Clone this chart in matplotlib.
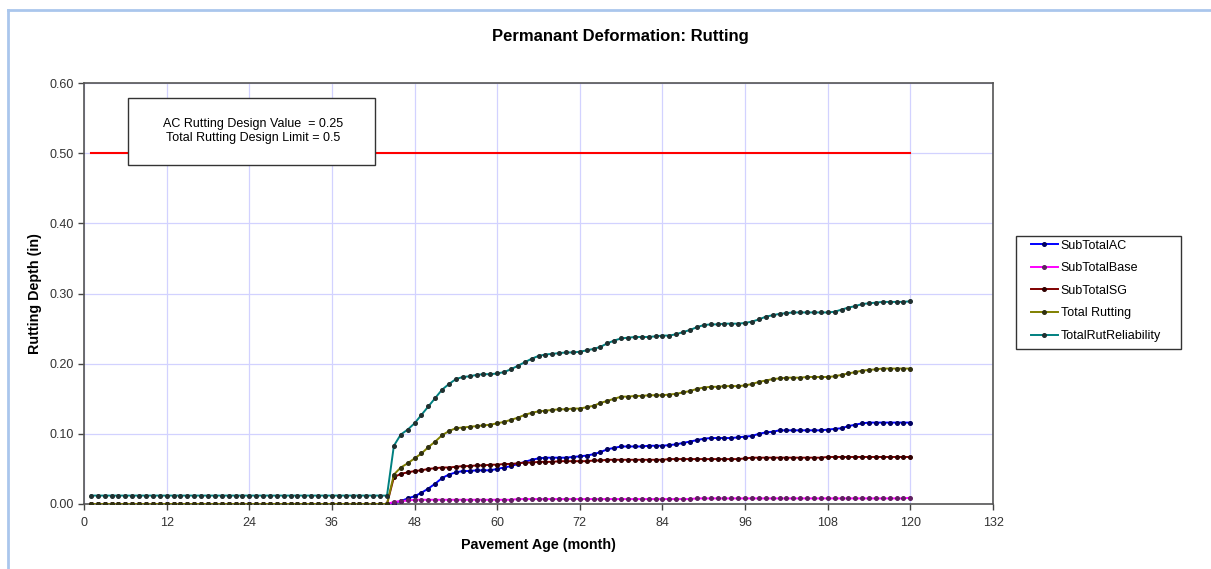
import numpy as np
import matplotlib
matplotlib.use("Agg")
import matplotlib.pyplot as plt
from matplotlib.lines import Line2D
from matplotlib.patches import Rectangle

plt.rcParams["font.family"] = ["Liberation Sans", "DejaVu Sans"]

# pavement age, one point per month
months = np.arange(1, 121)
n_flat = 44  # months before the first rutting shows up

# rutting depth (in) for months 45..120
sub_ac = [
    0.002, 0.004, 0.008, 0.011,
    0.016, 0.022, 0.029, 0.037, 0.042, 0.045, 0.047, 0.047, 0.048, 0.048, 0.048, 0.050,
    0.052, 0.054, 0.057, 0.060, 0.063, 0.065, 0.066, 0.066, 0.066, 0.066, 0.067, 0.068,
    0.069, 0.071, 0.074, 0.078, 0.080, 0.082, 0.082, 0.082, 0.082, 0.083, 0.083, 0.083,
    0.084, 0.085, 0.087, 0.089, 0.091, 0.093, 0.094, 0.094, 0.094, 0.094, 0.095, 0.096,
    0.097, 0.100, 0.102, 0.103, 0.105, 0.105, 0.105, 0.105, 0.105, 0.105, 0.105, 0.106,
    0.107, 0.108, 0.111, 0.113, 0.115, 0.116, 0.116, 0.116, 0.116, 0.116, 0.116, 0.116,
]
sub_base = [
    0.003, 0.004, 0.005, 0.006,
    0.006, 0.006, 0.006, 0.006, 0.006, 0.006, 0.006, 0.006, 0.006, 0.006, 0.006, 0.006,
    0.006, 0.006, 0.007, 0.007, 0.007, 0.007, 0.007, 0.007, 0.007, 0.007, 0.007, 0.007,
    0.007, 0.007, 0.007, 0.007, 0.007, 0.007, 0.007, 0.007, 0.007, 0.007, 0.007, 0.007,
    0.007, 0.007, 0.007, 0.007, 0.008, 0.008, 0.008, 0.008, 0.008, 0.008, 0.008, 0.008,
    0.008, 0.008, 0.008, 0.008, 0.008, 0.008, 0.008, 0.008, 0.008, 0.008, 0.008, 0.008,
    0.008, 0.008, 0.008, 0.008, 0.008, 0.008, 0.008, 0.008, 0.008, 0.008, 0.008, 0.009,
]
sub_sg = [
    0.038, 0.043, 0.045, 0.047,
    0.048, 0.050, 0.051, 0.052, 0.052, 0.053, 0.054, 0.054, 0.055, 0.055, 0.056, 0.056,
    0.057, 0.057, 0.058, 0.059, 0.059, 0.060, 0.060, 0.060, 0.061, 0.061, 0.061, 0.061,
    0.061, 0.062, 0.062, 0.063, 0.063, 0.063, 0.063, 0.063, 0.063, 0.063, 0.063, 0.063,
    0.064, 0.064, 0.064, 0.064, 0.064, 0.064, 0.064, 0.064, 0.064, 0.064, 0.064, 0.065,
    0.066, 0.066, 0.066, 0.066, 0.066, 0.066, 0.066, 0.066, 0.066, 0.066, 0.066, 0.067,
    0.067, 0.067, 0.067, 0.067, 0.067, 0.067, 0.067, 0.067, 0.067, 0.067, 0.067, 0.067,
]
total_rut = [
    0.042, 0.052, 0.058, 0.065,
    0.072, 0.081, 0.089, 0.098, 0.104, 0.108, 0.109, 0.110, 0.111, 0.112, 0.113, 0.115,
    0.117, 0.120, 0.123, 0.127, 0.130, 0.132, 0.133, 0.134, 0.135, 0.135, 0.136, 0.136,
    0.138, 0.140, 0.144, 0.147, 0.150, 0.153, 0.153, 0.154, 0.154, 0.155, 0.155, 0.155,
    0.156, 0.157, 0.159, 0.161, 0.164, 0.166, 0.167, 0.167, 0.168, 0.168, 0.168, 0.169,
    0.171, 0.174, 0.176, 0.178, 0.179, 0.180, 0.180, 0.180, 0.181, 0.181, 0.181, 0.181,
    0.182, 0.184, 0.186, 0.188, 0.190, 0.191, 0.192, 0.193, 0.193, 0.193, 0.193, 0.193,
]
total_rel = [
    0.083, 0.099, 0.106, 0.115,
    0.127, 0.139, 0.151, 0.163, 0.171, 0.178, 0.181, 0.182, 0.184, 0.185, 0.185, 0.186,
    0.188, 0.192, 0.197, 0.202, 0.207, 0.211, 0.213, 0.214, 0.215, 0.216, 0.216, 0.217,
    0.219, 0.221, 0.224, 0.229, 0.233, 0.236, 0.237, 0.238, 0.238, 0.238, 0.239, 0.240,
    0.240, 0.242, 0.245, 0.248, 0.252, 0.255, 0.256, 0.256, 0.257, 0.257, 0.257, 0.258,
    0.260, 0.263, 0.267, 0.269, 0.271, 0.272, 0.273, 0.273, 0.273, 0.273, 0.273, 0.273,
    0.274, 0.277, 0.280, 0.282, 0.285, 0.286, 0.287, 0.288, 0.288, 0.288, 0.288, 0.289,
]
rel_flat = 0.012  # reliability curve before month 45

ac_design = 0.25
total_limit = 0.5

series = [
    ("SubTotalAC", [0.0] * n_flat + sub_ac, "#0000ff", "#000060"),
    ("SubTotalBase", [0.0] * n_flat + sub_base, "#ff00ff", "#602060"),
    ("SubTotalSG", [0.0] * n_flat + sub_sg, "#800000", "#300000"),
    ("Total Rutting", [0.0] * n_flat + total_rut, "#808000", "#303010"),
    ("TotalRutReliability", [rel_flat] * n_flat + total_rel, "#008080", "#203030"),
]

W, H = 1211, 569
fig = plt.figure(figsize=(W / 100, H / 100), dpi=100)
ax = fig.add_axes([84 / W, 1 - 504 / H, 909 / W, 421 / H])

ax.plot(months, [total_limit] * len(months), color="#ff0000", lw=1.5, zorder=2)

for name, vals, col, mcol in series:
    ax.plot(months, vals, color=col, lw=1.4, marker="o", ms=2.6,
            mfc=mcol, mec=mcol, label=name, zorder=3)

ax.set_xlim(0, 132)
ax.set_ylim(0, 0.6)
ax.set_xticks(np.arange(0, 133, 12))
ax.set_yticks(np.arange(0, 0.61, 0.1))
ax.yaxis.set_major_formatter(matplotlib.ticker.FormatStrFormatter("%.2f"))
ax.grid(True, color="#d2d2ff", lw=0.9)
ax.set_axisbelow(True)
ax.tick_params(direction="out", length=4, width=1, color="#444444",
               labelsize=9, labelcolor="#333333")
ax.tick_params(axis="x", pad=5)
for sp in ax.spines.values():
    sp.set_color("#555555")
    sp.set_linewidth(1.2)

ax.set_xlabel("Pavement Age (month)", fontsize=10.3, fontweight="bold", labelpad=7)
ax.set_ylabel("Rutting Depth (in)", fontsize=10.3, fontweight="bold", labelpad=5)
fig.text(620 / W, 1 - 36 / H, "Permanant Deformation: Rutting",
         ha="center", va="center", fontsize=12, fontweight="bold")

# note box with the design values
fig.add_artist(Rectangle((128 / W, 1 - 165 / H), 247 / W, 67 / H,
                         transform=fig.transFigure, fc="white", ec="#333333",
                         lw=1, zorder=5))
fig.text(253 / W, 1 - 131 / H,
         f"AC Rutting Design Value  = {ac_design}\nTotal Rutting Design Limit = {total_limit}",
         ha="center", va="center", fontsize=9, linespacing=1.15, zorder=6)

# legend entries without their own frame; the frame is drawn separately
handles = [Line2D([0], [0], color=c, lw=1.4, marker="o", ms=2.6, mfc=m, mec=m)
           for _, _, c, m in series]
leg = fig.legend(handles, [s[0] for s in series], loc="upper left",
                 bbox_to_anchor=(1025 / W, 1 - 234 / H), fontsize=9,
                 frameon=False, handlelength=2.2, labelspacing=0.85,
                 borderpad=0.45, handletextpad=0.2, borderaxespad=0)
fig.add_artist(Rectangle((1016 / W, 1 - 349 / H), 165 / W, 113 / H,
                         transform=fig.transFigure, fc="white", ec="#333333",
                         lw=1, zorder=0))

# outer chart frame
fig.add_artist(Line2D([8 / W, 1], [1 - 10 / H] * 2, color="#aac6ec", lw=2))
fig.add_artist(Line2D([8 / W] * 2, [0, 1 - 10 / H], color="#aac6ec", lw=2))

fig.savefig("out.png", dpi=100)
